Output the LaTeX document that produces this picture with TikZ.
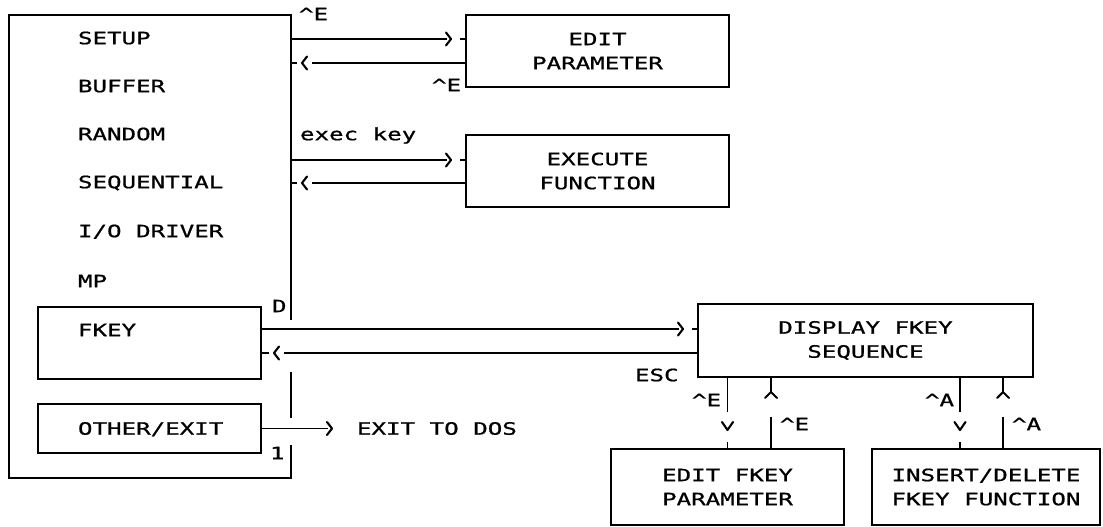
\documentclass[tikz,border=0pt]{standalone}
\usepackage{fontspec}
\setmainfont{DejaVu Sans Mono}[FakeStretch=1.42,FakeBold=0.9]
\usetikzlibrary{calc,decorations.markings}
\begin{document}
\begin{tikzpicture}[x=1pt,y=-1pt,font=\fontsize{17}{24}\selectfont,
  ln/.style={line width=1.9pt},
  box/.style={draw,line width=1.9pt,inner sep=0pt,outer sep=0pt,align=center},
  txt/.style={inner sep=0pt,outer sep=0pt,anchor=west,text height=12.4pt,text depth=0pt},
  chev/.style n args={5}{postaction={decorate,decoration={markings,
     mark=at position #1 with {\fill[white] (-#2,-7pt) rectangle (#3,7pt);
       \draw[line width=2.1pt,line cap=round,line join=round] (-#4,#5) -- (0pt,0pt) -- (-#4,-#5);}}}}
]
\useasboundingbox (0,0) rectangle (1103,527);

% main menu frame
\node[inner sep=0pt,outer sep=0pt,minimum width=282pt,minimum height=463pt] (menu) at (150,246.5) {};
\coordinate (gA) at (291,320);
\coordinate (gB) at (291,372);
\coordinate (gC) at (291,418);
\coordinate (gD) at (291,445);
\draw[ln] (gA) -- (menu.north east) -- (menu.north west) -- (menu.south west) -- (menu.south east) -- (gD);
\draw[ln] (gB) -- (gC);

% menu entries
\node[txt] (setup) at (78,38) {SETUP};
\node[txt] (buffer) at (78,86) {BUFFER};
\node[txt] (random) at (78,134) {RANDOM};
\node[txt] (seq) at (78,182) {SEQUENTIAL};
\node[txt] (iodrv) at (78,231) {I/O DRIVER};
\node[txt] (mp) at (78,281) {MP};
\node[box,minimum width=223pt,minimum height=72pt] (fkeybox) at (149.5,343) {};
\node[txt] (fkeytxt) at (78,330) {FKEY};
\node[box,minimum width=223pt,minimum height=49pt] (exitbox) at (149.5,428.5) {};
\node[txt] (othtxt) at (78,428.5) {OTHER/EXIT};

% right boxes
\node[box,minimum width=263pt,minimum height=72pt] (editpar) at (597.5,51) {EDIT\\PARAMETER};
\node[box,minimum width=263pt,minimum height=72pt] (execfn) at (597.5,171) {EXECUTE\\FUNCTION};
\node[box,minimum width=335pt,minimum height=73pt] (display) at (865.5,340.5) {DISPLAY FKEY\\SEQUENCE};
\node[box,minimum width=233pt,minimum height=76pt] (editfkey) at (727.5,487) {EDIT FKEY\\PARAMETER};
\node[box,minimum width=228pt,minimum height=76pt] (insdel) at (986,487) {INSERT/DELETE\\FKEY FUNCTION};

% labels
\node[txt] (ctlEa) at (299,14) {\textasciicircum E};
\node[txt] (ctlEb) at (432,85) {\textasciicircum E};
\node[txt] (execkey) at (300,134) {exec key};
\node[txt] (dlab) at (272,306) {D};
\node[txt] (onelab) at (270,453) {1};
\node[txt] (dos) at (357,428.5) {EXIT TO DOS};
\node[txt] (esc) at (635,375) {ESC};
\node[txt] (ctlEc) at (692,400) {\textasciicircum E};
\node[txt] (ctlEd) at (780,424) {\textasciicircum E};
\node[txt] (ctlAa) at (925,400) {\textasciicircum A};
\node[txt] (ctlAb) at (1012,424) {\textasciicircum A};

% horizontal connectors
\coordinate (e1) at ([yshift=12pt]editpar.west);
\coordinate (e2) at ([yshift=-12pt]editpar.west);
\draw[ln,chev={-15pt}{4pt}{9pt}{5pt}{6.5pt}] (menu.east |- e1) -- (e1);
\draw[ln,chev={-11pt}{10pt}{5pt}{5pt}{6.5pt}] (e2) -- (menu.east |- e2);

\coordinate (x1) at ([yshift=11pt]execfn.west);
\coordinate (x2) at ([yshift=-12pt]execfn.west);
\draw[ln,chev={-15pt}{4pt}{9pt}{5pt}{6.5pt}] (menu.east |- x1) -- (x1);
\draw[ln,chev={-11pt}{10pt}{5pt}{5pt}{6.5pt}] (x2) -- (menu.east |- x2);

\coordinate (k1) at ([yshift=11.5pt]display.west);
\coordinate (k2) at ([yshift=-12.5pt]display.west);
\draw[ln,chev={-15pt}{4pt}{9pt}{5pt}{6.5pt}] (fkeybox.east |- k1) -- (k1);
\draw[ln,chev={-13pt}{10pt}{5pt}{5pt}{6.5pt}] (k2) -- (fkeybox.east |- k2);

\coordinate (dosin) at (332,428.5);
\draw[ln,chev={-0.01pt}{4pt}{0pt}{5pt}{6.5pt}] (exitbox.east) -- (dosin);

% vertical connectors
\coordinate (u1) at ([xshift=43.5pt]editfkey.north);
\coordinate (d3) at ([xshift=-26pt]insdel.north);
\coordinate (u2) at ([xshift=17pt]insdel.north);
\draw[ln,chev={-19pt}{18pt}{12pt}{8pt}{5.5pt}] (display.south -| editfkey.north) -- (editfkey.north);
\draw[ln,chev={-15pt}{25pt}{0pt}{6pt}{6pt}] (u1) -- (display.south -| u1);
\draw[ln,chev={-19pt}{18pt}{12pt}{8pt}{5.5pt}] (display.south -| d3) -- (d3);
\draw[ln,chev={-15pt}{25pt}{0pt}{6pt}{6pt}] (u2) -- (display.south -| u2);
\end{tikzpicture}
\end{document}
